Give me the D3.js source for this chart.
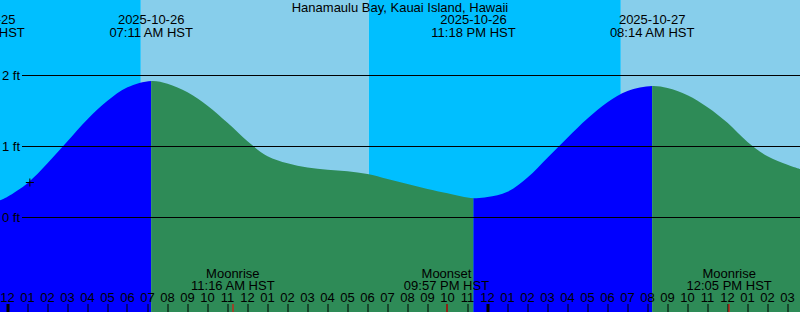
<!DOCTYPE html>
<html>
<head>
<meta charset="utf-8">
<script src="https://cdn.jsdelivr.net/npm/d3@7"></script>
<style>
  html, body { margin: 0; padding: 0; background: #fff; }
  svg { display: block; }
  text { font-family: "Liberation Sans", Arial, sans-serif; font-size: 13px; fill: #000; }
</style>
</head>
<body>
<svg id="chart" width="800" height="312"></svg>
<script>
// ---------- data ----------
const title = "Hanamaulu Bay, Kauai Island, Hawaii";
const viewStart = "2025-10-25 23:37:30";
const viewEnd   = "2025-10-27 15:37:30";

// tide curve samples (HST) and heights (ft)
const tideTimes = [
  "2025-10-25 23:37:30","2025-10-26 00:00","2025-10-26 01:00","2025-10-26 02:00","2025-10-26 03:00",
  "2025-10-26 04:00","2025-10-26 05:00","2025-10-26 06:00","2025-10-26 07:11",
  "2025-10-26 08:00","2025-10-26 09:00","2025-10-26 10:00","2025-10-26 11:00","2025-10-26 12:00",
  "2025-10-26 13:00","2025-10-26 14:00","2025-10-26 15:00","2025-10-26 16:00","2025-10-26 17:00",
  "2025-10-26 18:00","2025-10-26 19:00","2025-10-26 20:00","2025-10-26 21:00","2025-10-26 22:00",
  "2025-10-26 23:18","2025-10-27 00:00","2025-10-27 01:00","2025-10-27 02:00",
  "2025-10-27 03:00","2025-10-27 04:00","2025-10-27 05:00","2025-10-27 06:00","2025-10-27 07:00",
  "2025-10-27 08:14","2025-10-27 09:00","2025-10-27 10:00","2025-10-27 11:00",
  "2025-10-27 12:00","2025-10-27 13:00","2025-10-27 14:00","2025-10-27 15:00","2025-10-27 15:37:30"
];
const tideFeet = [
  0.24, 0.29, 0.48, 0.76, 1.07,
  1.38, 1.64, 1.83, 1.92,
  1.88, 1.76, 1.57, 1.33, 1.07,
  0.86, 0.76, 0.70, 0.67, 0.65,
  0.61, 0.54, 0.47, 0.40, 0.34,
  0.27, 0.285, 0.36, 0.56,
  0.84, 1.12, 1.39, 1.62, 1.78,
  1.85, 1.82, 1.72, 1.55,
  1.33, 1.06, 0.86, 0.74, 0.68
];

// high / low tide events
const tideEventTimes = ["2025-10-25 22:44", "2025-10-26 07:11", "2025-10-26 23:18", "2025-10-27 08:14"];
const tideEventTypes = ["low", "high", "low", "high"];

// sun
const sunriseTimes = ["2025-10-26 06:40", "2025-10-27 06:40"];
const sunsetTimes  = ["2025-10-26 18:04"];

// moon
const moonEventTimes = ["2025-10-26 11:16", "2025-10-26 21:57", "2025-10-27 12:05"];
const moonEventNames = ["Moonrise", "Moonset", "Moonrise"];

// y ticks
const yTicks = [0, 1, 2];
const nowTime = "2025-10-26 01:07";
const nowFeet = 0.49;

// ---------- chart ----------
const W = 800, H = 312;
const parse = d3.utcParse("%Y-%m-%d %H:%M");
const parseS = d3.utcParse("%Y-%m-%d %H:%M:%S");
const P = s => parse(s) || parseS(s);

const COL = { night: "#00BFFF", day: "#87CEEB", rise: "#0000FF", fall: "#2E8B57" };

const svg = d3.select("#chart");
const x = d3.scaleUtc().domain([P(viewStart), P(viewEnd)]).range([0, W]);
const y = d3.scaleLinear().domain([0, 2]).range([217.3, 75.3]);

// day / night background
const sunEvents = []
  .concat(sunriseTimes.map(t => ({ t: P(t), type: "rise" })))
  .concat(sunsetTimes.map(t => ({ t: P(t), type: "set" })))
  .sort((a, b) => a.t - b.t);
const bands = [];
let prevT = x.domain()[0];
let isDay = sunEvents[0].type === "set";
sunEvents.forEach(e => {
  bands.push({ a: prevT, b: e.t, day: isDay });
  prevT = e.t; isDay = e.type === "rise";
});
bands.push({ a: prevT, b: x.domain()[1], day: isDay });
svg.append("g").selectAll("rect").data(bands).join("rect")
  .attr("x", d => x(d.a)).attr("y", 0)
  .attr("width", d => x(d.b) - x(d.a)).attr("height", H)
  .attr("fill", d => d.day ? COL.day : COL.night);

// tide area with rising/falling colour segments
const tide = tideTimes.map((t, i) => ({ t: P(t), v: tideFeet[i] }));
const area = d3.area().curve(d3.curveCatmullRom.alpha(0.5))
  .x(d => x(d.t)).y0(H).y1(d => y(d.v));

const ev = tideEventTimes.map((t, i) => ({ t: P(t), type: tideEventTypes[i] }));
const segs = [];
for (let i = 0; i < ev.length; i++) {
  const a = ev[i].t, b = i + 1 < ev.length ? ev[i + 1].t : x.domain()[1];
  segs.push({ a, b, rising: ev[i].type === "low" });
}
const defs = svg.append("defs");
segs.forEach((s, i) => {
  defs.append("clipPath").attr("id", "seg" + i).append("rect")
    .attr("x", x(s.a)).attr("y", 0)
    .attr("width", Math.max(0, x(s.b) - x(s.a))).attr("height", H);
  svg.append("path").datum(tide)
    .attr("clip-path", `url(#seg${i})`)
    .attr("d", area)
    .attr("fill", s.rising ? COL.rise : COL.fall);
});

// gridlines + labels
const grid = svg.append("g");
yTicks.forEach(v => {
  grid.append("line").attr("x1", 22).attr("x2", W)
    .attr("y1", Math.round(y(v)) + 0.5).attr("y2", Math.round(y(v)) + 0.5)
    .attr("stroke", "#000").attr("stroke-width", 1);
  grid.append("text").attr("x", 2).attr("y", y(v) + 4.7).text(v + " ft");
});

// title
svg.append("text").attr("x", 400).attr("y", 12).attr("text-anchor", "middle").text(title);

// tide event labels
const fDate = d3.utcFormat("%Y-%m-%d");
const fTime = d3.utcFormat("%I:%M %p HST");
const tl = svg.append("g").attr("text-anchor", "middle");
ev.forEach(e => {
  tl.append("text").attr("x", x(e.t)).attr("y", 24).text(fDate(e.t));
  tl.append("text").attr("x", x(e.t)).attr("y", 36.5).text(fTime(e.t));
});

// moon labels + red ticks
const ml = svg.append("g").attr("text-anchor", "middle");
moonEventTimes.forEach((t, i) => {
  const d = P(t);
  ml.append("text").attr("x", x(d)).attr("y", 278).text(moonEventNames[i]);
  ml.append("text").attr("x", x(d)).attr("y", 290).text(fTime(d));
});

// hour ticks
const hours = d3.utcHour.range(d3.utcHour.ceil(x.domain()[0]), x.domain()[1]);
const fHour = d3.utcFormat("%I");
const ax = svg.append("g");
hours.forEach(h => {
  const xp = x(h);
  const mid = h.getUTCHours() === 0;
  ax.append("rect").attr("x", mid ? Math.round(xp) - 1.5 : Math.round(xp) - 0.5).attr("y", 304)
    .attr("width", mid ? 3 : 1).attr("height", 8).attr("fill", "#000");
  ax.append("text").attr("x", xp).attr("y", 301.5).attr("text-anchor", "middle").text(fHour(h));
});
moonEventTimes.forEach(t => {
  ax.append("rect").attr("x", Math.round(x(P(t))) - 0.5).attr("y", 304)
    .attr("width", 1).attr("height", 8).attr("fill", "#FF0000");
});

// current time cross
const cx = x(P(nowTime)), cy = y(nowFeet);
svg.append("path")
  .attr("d", `M${cx - 4},${cy}H${cx + 4}M${cx},${cy - 4}V${cy + 4}`)
  .attr("stroke", "#000").attr("stroke-width", 1).attr("fill", "none");
</script>
</body>
</html>
